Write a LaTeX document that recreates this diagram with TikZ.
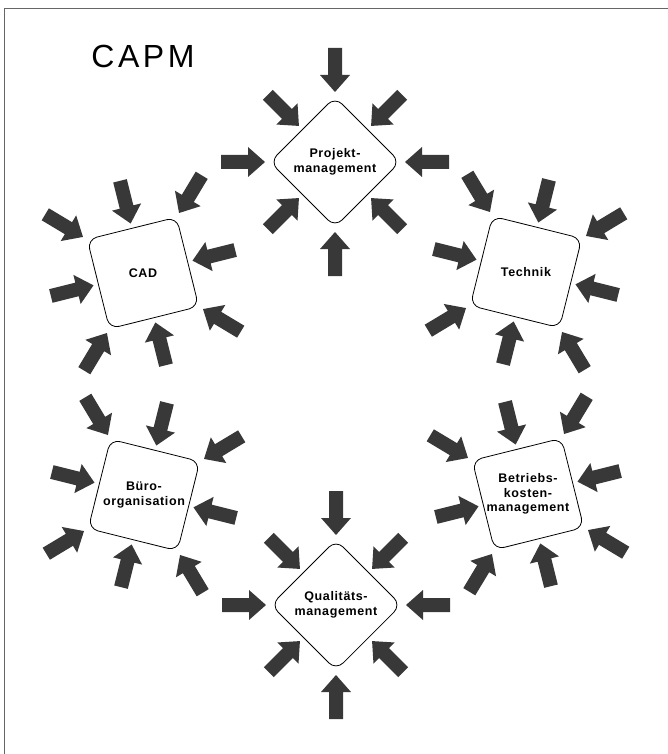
\documentclass[tikz,border=0pt]{standalone}
\usepackage{fontspec}
\usepackage{tikz}
\usetikzlibrary{calc}
\newfontfamily\lblfont{Liberation Sans}[LetterSpace=5]
\newfontfamily\titlefont{Liberation Sans}[LetterSpace=11]

\begin{document}
\begin{tikzpicture}[x=1pt,y=1pt,
    box/.style={draw, line width=0.8pt, rectangle, rounded corners=10pt,
      minimum size=92pt, inner sep=0pt},
    lbl/.style={font=\lblfont\bfseries\fontsize{12.5}{14.5}\selectfont, align=center},
    pfeil/.style={fill=black!78}]
  \useasboundingbox (0,-754) rectangle (668,0);

  % frame and title
  \draw[black!60, line width=1.5pt] (4.5,-754) -- (4.5,-8.5) -- (668,-8.5);
  \node[font=\titlefont\fontsize{32}{36}\selectfont, anchor=base] (titel) at (143,-68) {CAPM};

  % the six fields
  \node[box, rotate=45]  (proj)  at (335,-162) {};
  \node[box, rotate=45]  (qual)  at (336,-605) {};
  \node[box, rotate=14]  (cad)   at (143,-273) {};
  \node[box, rotate=-14] (tech)  at (526,-272) {};
  \node[box, rotate=-14] (buero) at (144,-495) {};
  \node[box, rotate=14]  (betr)  at (528,-494) {};

  \node[lbl] at (proj)  {Projekt-\\management};
  \node[lbl] at (qual)  {Qualitäts-\\management};
  \node[lbl] at (cad)   {CAD};
  \node[lbl] at (tech)  {Technik};
  \node[lbl] at (buero) {Büro-\\organisation};
  \node[lbl] at (betr)  {Betriebs-\\kosten-\\management};

  % eight arrows onto every field
  \foreach \n/\r in {proj/45, qual/45, cad/14, tech/-14, buero/-14, betr/14} {
    \foreach \k in {0,...,7} {
      \pgfmathsetmacro{\a}{\r+45*\k}
      \pgfmathsetmacro{\d}{isodd(\k) ? 70 : 51}
      \fill[pfeil, shift={(\n.center)}, rotate=\a]
        (\d,0) -- ++(17,15) -- ++(0,-8) -- ++(27,0) -- ++(0,-14)
        -- ++(-27,0) -- ++(0,-8) -- cycle;
    }
  }
\end{tikzpicture}
\end{document}
